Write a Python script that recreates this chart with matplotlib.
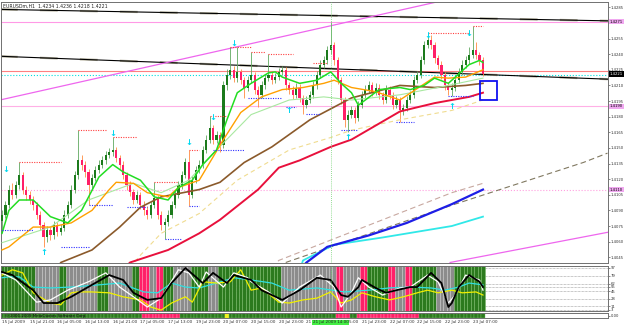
# -*- coding: utf-8 -*-
"""
EURUSDm H1 - grafico estilo MetaTrader con subventana de oscilador
"""
import numpy as np
import matplotlib
matplotlib.use('Agg')
import matplotlib.pyplot as plt

# ---------------- datos de precio (en pips: 14086 -> 1.4086) ----------------
first_open = 14080
close_pips = [14086, 14095, 14110, 14105, 14114, 14124, 14110, 14105, 14100, 14095,
              14086, 14076, 14064, 14071, 14066, 14076, 14069, 14073, 14086, 14095,
              14110, 14124, 14138, 14134, 14127, 14114, 14121, 14129, 14134, 14138,
              14143, 14146, 14148, 14140, 14134, 14124, 14114, 14108, 14100, 14105,
              14095, 14090, 14086, 14095, 14102, 14086, 14076, 14079, 14086, 14095,
              14105, 14114, 14124, 14136, 14105, 14119, 14129, 14134, 14148, 14158,
              14169, 14158, 14162, 14153, 14210, 14220, 14225, 14217, 14223, 14215,
              14208, 14215, 14220, 14206, 14201, 14210, 14217, 14220, 14215, 14218,
              14223, 14225, 14210, 14206, 14201, 14208, 14198, 14191, 14196, 14201,
              14210, 14220, 14230, 14234, 14244, 14249, 14234, 14215, 14196, 14177,
              14182, 14186, 14179, 14191, 14201, 14206, 14210, 14204, 14208, 14201,
              14196, 14206, 14201, 14191, 14196, 14186, 14188, 14196, 14201, 14215,
              14220, 14234, 14249, 14254, 14249, 14236, 14230, 14220, 14210, 14206,
              14208, 14215, 14223, 14230, 14234, 14239, 14244, 14239, 14234, 14221]
high_pips = [14090, 14099, 14114, 14116, 14118, 14136, 14127, 14113, 14109, 14104,
             14098, 14089, 14079, 14075, 14074, 14080, 14079, 14077, 14090, 14099,
             14114, 14128, 14167, 14143, 14137, 14130, 14125, 14133, 14138, 14142,
             14147, 14150, 14160, 14151, 14143, 14137, 14127, 14118, 14111, 14109,
             14108, 14099, 14094, 14099, 14117, 14105, 14089, 14083, 14090, 14099,
             14109, 14118, 14128, 14140, 14148, 14123, 14133, 14138, 14152, 14162,
             14181, 14172, 14166, 14165, 14214, 14226, 14247, 14229, 14247, 14226,
             14218, 14219, 14242, 14223, 14209, 14214, 14221, 14240, 14224, 14222,
             14227, 14229, 14228, 14213, 14209, 14212, 14211, 14201, 14200, 14205,
             14214, 14224, 14234, 14238, 14248, 14271, 14252, 14237, 14218, 14199,
             14186, 14190, 14189, 14195, 14205, 14210, 14214, 14213, 14212, 14211,
             14204, 14210, 14209, 14204, 14200, 14199, 14192, 14200, 14205, 14219,
             14224, 14238, 14253, 14260, 14258, 14252, 14239, 14233, 14223, 14213,
             14212, 14219, 14227, 14234, 14238, 14247, 14267, 14252, 14242, 14237]
low_pips = [14071, 14083, 14092, 14101, 14102, 14111, 14106, 14100, 14096, 14090,
            14082, 14071, 14055, 14060, 14062, 14063, 14065, 14066, 14070, 14083,
            14092, 14107, 14120, 14129, 14122, 14095, 14110, 14118, 14126, 14131,
            14135, 14140, 14142, 14136, 14130, 14120, 14110, 14104, 14096, 14097,
            14091, 14086, 14082, 14083, 14092, 14082, 14071, 14063, 14075, 14083,
            14092, 14102, 14111, 14121, 14094, 14102, 14116, 14126, 14131, 14145,
            14155, 14154, 14155, 14146, 14150, 14206, 14216, 14213, 14213, 14211,
            14198, 14205, 14212, 14202, 14189, 14198, 14207, 14214, 14211, 14212,
            14215, 14220, 14206, 14202, 14197, 14198, 14194, 14183, 14188, 14193,
            14198, 14207, 14217, 14227, 14231, 14240, 14230, 14211, 14192, 14170,
            14165, 14179, 14174, 14176, 14188, 14198, 14203, 14200, 14201, 14197,
            14192, 14193, 14197, 14187, 14188, 14175, 14182, 14185, 14193, 14198,
            14212, 14217, 14231, 14246, 14245, 14232, 14226, 14216, 14206, 14201,
            14200, 14205, 14212, 14220, 14227, 14231, 14236, 14235, 14230, 14219]

# medias moviles: (barra, precio en pips)
ma_green = [(0, 14068), (2, 14090), (5, 14100), (9, 14100), (14, 14084), (19, 14078),
            (23, 14090), (28, 14122), (32, 14134), (35, 14127), (40, 14119), (44, 14103),
            (48, 14100), (51, 14112), (55, 14119), (58, 14134), (62, 14148), (65, 14177),
            (68, 14203), (72, 14212), (77, 14222), (79, 14223), (81, 14218), (86, 14212),
            (91, 14215), (95, 14223), (98, 14212), (101, 14203), (103, 14191), (109, 14206),
            (115, 14208), (118, 14206), (122, 14210), (125, 14217), (129, 14212),
            (131, 14218), (135, 14230), (138, 14234), (139, 14232)]
ma_orange = [(0, 14052), (2, 14055), (9, 14074), (14, 14074), (20, 14078), (26, 14090),
             (31, 14110), (33, 14117), (38, 14116), (42, 14107), (48, 14103), (51, 14112),
             (57, 14119), (64, 14158), (69, 14184), (75, 14199), (81, 14206), (87, 14208),
             (93, 14212), (96, 14215), (101, 14208), (108, 14204), (115, 14196),
             (125, 14218), (129, 14217), (134, 14218), (139, 14225)]
ma_palegreen = [(0, 14059), (14, 14074), (25, 14100), (38, 14116), (46, 14107), (54, 14119),
                (62, 14148), (72, 14182), (83, 14196), (93, 14199), (101, 14196),
                (115, 14201), (129, 14210), (139, 14217)]
ma_brown = [(15, 14030), (17, 14040), (26, 14052), (34, 14074), (40, 14093), (46, 14103),
            (57, 14110), (63, 14117), (70, 14136), (78, 14151), (89, 14177), (97, 14191),
            (101, 14198), (115, 14210), (125, 14208), (134, 14210), (139, 14212)]
ma_red = [(34, 14030), (37, 14040), (48, 14052), (57, 14068), (63, 14081), (74, 14110),
          (80, 14131), (86, 14138), (95, 14151), (101, 14158), (115, 14185), (125, 14193),
          (135, 14199), (139, 14203)]
ma_yellow = [(37, 14035), (40, 14047), (46, 14068), (57, 14087), (68, 14119), (83, 14148),
             (95, 14160), (101, 14167), (115, 14177), (130, 14186), (139, 14196)]
ma_blue = [(85, 14030), (88, 14040), (94, 14055), (106, 14066), (117, 14078), (130, 14096),
           (139, 14110)]
ma_cyan = [(86, 14032), (87, 14042), (96, 14057), (110, 14064), (130, 14075), (139, 14084)]
ma_tan = [(78, 14035), (80, 14042), (130, 14107), (139, 14116)]
line_gray = [(82, 14040), (130, 14095), (168, 14136), (175, 14145)]

# lineas de tendencia y niveles
trend_black = [[(-0.6, 14283), (175.1, 14272)], [(-0.6, 14238), (175.1, 14216)]]
trend_pink = [[(-0.6, 14196), (175.1, 14327)], [(129.5, 14040), (175.1, 14069)]]
hlevels = [(14271, '#FF99E6', '-'), (14224, '#FF8080', '-'), (14220, '#00E0E0', ':'),
           (14190, '#FFB0E6', '-'), (14110, '#FFA0E0', ':')]
price_boxes = [(14271, '1.4271', '#F0A8F0', 'black'), (14190, '1.4190', '#F0A8F0', 'black'),
               (14110, '1.4110', '#F0A8F0', 'black'), (14221, '1.4221', 'black', 'white')]
current_price = 14221

# niveles de fractales (inicio, fin, precio)
res_levels = [(5, 17, 14136), (22, 30, 14167), (32, 39, 14160), (44, 51, 14117),
              (54, 57, 14148), (60, 65, 14181), (66, 72, 14247), (72, 76, 14242),
              (77, 84, 14240), (90, 94, 14232), (123, 135, 14260), (136, 139, 14267)]
sup_levels = [(0, 9, 14071), (17, 25, 14055), (25, 32, 14095), (36, 42, 14093),
              (47, 52, 14063), (54, 57, 14094), (61, 70, 14148), (71, 81, 14198),
              (82, 85, 14189), (88, 92, 14183), (98, 103, 14167), (114, 119, 14175),
              (129, 136, 14200)]
arrows_down = [(1, 14129), (32, 14164), (54, 14155), (61, 14179), (67, 14250),
               (123, 14258), (135, 14260)]
arrows_up = [(12, 14050), (83, 14186), (100, 14160), (130, 14190)]
box_bars = (138.1, 143.0)
box_prices = (14196, 14214)
vline_bar = 95

# ---------------- oscilador (barra, valor) ----------------
osc_black = [(0, 88), (3, 81), (9, 47), (12, 18), (16, 18), (20, 32), (26, 59), (31, 81),
             (35, 70), (38, 41), (42, 25), (46, 29), (49, 63), (53, 97), (56, 77), (58, 63),
             (61, 86), (65, 63), (67, 81), (72, 70), (75, 47), (81, 25), (86, 47), (91, 75),
             (95, 70), (98, 36), (100, 32), (103, 54), (104, 70), (108, 52), (111, 41),
             (114, 47), (118, 54), (120, 54), (124, 86), (127, 63), (129, 9), (130, 18),
             (132, 54), (135, 81), (138, 66), (139, 54)]
osc_white = [(0, 86), (4, 70), (10, 20), (14, 25), (19, 47), (25, 66), (30, 86), (34, 54),
             (38, 32), (42, 9), (46, 29), (51, 93), (54, 86), (57, 54), (59, 88), (64, 54),
             (67, 86), (71, 75), (72, 66), (77, 43), (81, 18), (86, 54), (92, 81), (96, 54),
             (98, 9), (101, 41), (103, 75), (106, 54), (110, 36), (115, 52), (118, 54),
             (123, 81), (126, 66), (129, 18), (131, 36), (134, 81), (138, 70), (139, 47)]
osc_cyan = [(0, 75), (2, 77), (5, 77), (9, 54), (14, 52), (20, 54), (28, 59), (34, 63),
            (41, 43), (45, 41), (49, 63), (53, 54), (57, 52), (62, 63), (67, 75), (72, 70),
            (78, 63), (83, 47), (91, 52), (99, 43), (106, 47), (112, 52), (118, 54),
            (124, 52), (128, 47), (132, 54), (135, 63), (139, 59)]
osc_yellow = [(0, 81), (3, 93), (6, 86), (9, 41), (14, 18), (17, 14), (20, 41), (22, 43),
              (26, 43), (31, 41), (35, 32), (40, 25), (43, 9), (46, 2), (49, 18), (53, 32),
              (55, 20), (58, 66), (62, 63), (66, 66), (69, 93), (72, 47), (75, 52), (80, 20),
              (83, 18), (87, 25), (91, 29), (95, 43), (98, 18), (101, 25), (104, 41),
              (108, 32), (112, 25), (116, 32), (120, 41), (123, 47), (126, 41), (130, 47),
              (133, 41), (137, 43), (139, 36)]
osc_levels = [97, 79, 62, 55, 45, 28, 11, 3]
# estado de cada barra en el fondo del oscilador (desde, hasta, estado)
osc_spans = [(0, 9, 'g'), (10, 16, 's'), (17, 18, 'g'), (19, 27, 's'), (28, 30, 'g'),
             (31, 37, 's'), (38, 39, 'g'), (40, 42, 'r'), (43, 44, 's'), (45, 46, 'r'),
             (47, 49, 'g'), (50, 54, 's'), (55, 59, 'g'), (60, 62, 's'), (63, 80, 'g'),
             (81, 96, 's'), (97, 98, 'r'), (99, 103, 's'), (104, 105, 'r'), (106, 111, 'g'),
             (112, 113, 'r'), (114, 116, 's'), (117, 118, 'r'), (119, 125, 'g'),
             (126, 130, 's'), (131, 139, 'g')]
strip_spans = [(0, 40, 'g'), (41, 51, 'r'), (52, 64, 'g'), (65, 65, 'y'), (66, 96, 'g'),
               (97, 100, 'r'), (101, 102, 'g'), (103, 120, 'r'), (121, 139, 'g')]

time_labels = [(0, '15 Jul 2009'), (8, '15 Jul 21:00'), (16, '16 Jul 05:00'),
               (24, '16 Jul 13:00'), (32, '16 Jul 21:00'), (40, '17 Jul 05:00'),
               (48, '17 Jul 13:00'), (56, '19 Jul 23:00'), (64, '20 Jul 07:00'),
               (72, '20 Jul 15:00'), (80, '20 Jul 23:00'), (88, '21 Jul 07:00'),
               (96, '21 Jul 15:00'), (104, '21 Jul 23:00'), (112, '22 Jul 07:00'),
               (120, '22 Jul 15:00'), (128, '22 Jul 23:00'), (136, '23 Jul 07:00')]
vline_label = '21 Jul 2009 14:00'
header = 'EURUSDm,H1  1.4234 1.4236 1.4218 1.4221'


def pts(lista):
    xs, ys = zip(*lista)
    return np.array(xs, dtype=float), np.array(ys, dtype=float) / 1e4


def vals(lista):
    xs, ys = zip(*lista)
    return np.array(xs, dtype=float), np.array(ys, dtype=float)


# ---------------- figura ----------------
W, H = 625, 327
fig = plt.figure(figsize=(W / 100, H / 100), dpi=100)
fig.patch.set_facecolor('white')
XL = (-0.29, 175.14)

ax = fig.add_axes([1 / W, 1 - 263 / H, 607 / W, 261 / H])
ax2 = fig.add_axes([1 / W, 1 - 311 / H, 607 / W, 45 / H])
ax3 = fig.add_axes([1 / W, 1 - 318 / H, 607 / W, 5 / H])

for a in (ax, ax2, ax3):
    a.set_xlim(*XL)
    a.set_xticks([])
    for s in a.spines.values():
        s.set_color('#707070')
        s.set_linewidth(0.7)
    a.yaxis.tick_right()
    a.tick_params(axis='y', labelsize=2.7, length=1.5, width=0.4, pad=0.6, colors='#303030')

# ---------------- panel principal ----------------
ax.set_ylim(1.40395, 1.42901)
# el nivel 1.4270 queda tapado por la etiqueta rosa
ticks = [t / 1e4 for t in range(14045, 14286, 15) if t != 14270]
ax.set_yticks(ticks)
ax.set_yticklabels(['%.4f' % t for t in ticks])

c = np.array(close_pips) / 1e4
o = np.r_[first_open, close_pips[:-1]] / 1e4
hi = np.array(high_pips) / 1e4
lo = np.array(low_pips) / 1e4
idx = np.arange(len(c))
alcista = c >= o

ax.vlines(idx, lo, hi, colors=np.where(alcista, '#5FA85F', '#FF8C40'), linewidth=0.6, zorder=3)
ax.bar(idx, np.maximum(np.abs(c - o), 0.00005), bottom=np.minimum(o, c), width=0.62,
       color=np.where(alcista, '#1C7A1C', '#FF1F68'), linewidth=0, zorder=4)

for nivel, col, ls in hlevels:
    ax.axhline(nivel / 1e4, color=col, lw=0.8, ls=ls, zorder=2)

for tl in trend_black:
    x, y = pts(tl)
    ax.plot(x, y, color='#B0AC98', lw=1.6, ls=(0, (8, 10)), zorder=2)
    ax.plot(x, y, color='black', lw=0.8, zorder=2)
for tl in trend_pink:
    x, y = pts(tl)
    ax.plot(x, y, color='#EE66EE', lw=0.9, zorder=2)

# medias moviles
estilos = [(ma_tan, '#C8A8A0', 0.8, (0, (5, 3))), (line_gray, '#807860', 0.8, (0, (5, 3))),
           (ma_cyan, '#30E8E8', 1.3, '-'), (ma_blue, '#1E1EE6', 1.6, '-'),
           (ma_yellow, '#F0DC90', 0.8, (0, (4, 3))), (ma_red, '#E8103C', 1.4, '-'),
           (ma_brown, '#8B5A2B', 1.2, '-'), (ma_palegreen, '#A8E8A0', 0.8, '-'),
           (ma_orange, '#FFA000', 1.0, '-'), (ma_green, '#22DD22', 1.1, '-')]
for datos, col, lw, ls in estilos:
    x, y = pts(datos)
    ax.plot(x, y, color=col, lw=lw, ls=ls, zorder=5)

for a0, a1, p in res_levels:
    ax.plot([a0, a1], [p / 1e4] * 2, color='#FF4040', lw=0.8, ls=(0, (1, 1.2)), zorder=6)
for a0, a1, p in sup_levels:
    ax.plot([a0, a1], [p / 1e4] * 2, color='#3030FF', lw=0.8, ls=(0, (1, 1.2)), zorder=6)

for b, p in arrows_down:
    ax.text(b, p / 1e4, '\u2193', color='#00D8F0', fontsize=6, fontweight='bold',
            ha='center', va='center', zorder=7)
for b, p in arrows_up:
    ax.text(b, p / 1e4, '\u2191', color='#00D8F0', fontsize=6, fontweight='bold',
            ha='center', va='center', zorder=7)

ax.add_patch(plt.Rectangle((box_bars[0], box_prices[0] / 1e4), box_bars[1] - box_bars[0],
                           (box_prices[1] - box_prices[0]) / 1e4, fill=False,
                           edgecolor='#1010F0', lw=1.3, zorder=8))

for a in (ax, ax2):
    a.axvline(vline_bar, color='#70D070', lw=0.6, ls=(0, (1, 1.5)), zorder=6)

trans = ax.get_yaxis_transform()
for p, txt, fc, tc in price_boxes:
    ax.text(1.003, p / 1e4, txt, transform=trans, fontsize=2.7, color=tc, va='center',
            ha='left', zorder=10, clip_on=False,
            bbox=dict(boxstyle='square,pad=0.15', fc=fc, ec='none'))

ax.text(0.003, 0.993, header, transform=ax.transAxes, fontsize=3.3, va='top', ha='left',
        color='#202020')

# ---------------- oscilador ----------------
ax2.set_ylim(0, 101.5)
ax2.set_yticks(osc_levels)
ax2.set_yticklabels([str(v) for v in osc_levels])
for v in osc_levels:
    ax2.axhline(v, color='#909090', lw=0.5, ls=(0, (1, 1)), zorder=1)

relleno = {'g': ('#2C7A1E', '#78B868'), 's': ('#8C8C8C', '#C8C8C8'),
           'r': ('#FF2068', '#FF90B0'), 'y': ('#F0F020', '#F0F020')}
for a0, a1, est in osc_spans:
    b = np.arange(a0, a1 + 1)
    ax2.bar(b, 101.5, width=1.0, bottom=0, color=relleno[est][0],
            edgecolor=relleno[est][1], linewidth=0.4, zorder=2)

for datos, col, lw in [(osc_cyan, '#30E0E0', 0.9), (osc_yellow, '#F0F000', 0.9),
                       (osc_white, 'white', 0.9), (osc_black, 'black', 1.3)]:
    x, y = vals(datos)
    ax2.plot(x, y, color=col, lw=lw, zorder=4)

# ---------------- franja inferior ----------------
ax3.set_ylim(0, 1)
ax3.set_yticks([0.5])
ax3.set_yticklabels(['0.00'])
for a0, a1, est in strip_spans:
    b = np.arange(a0, a1 + 1)
    ax3.bar(b, 1, width=1.0, bottom=0, color=relleno[est][0],
            edgecolor=relleno[est][1], linewidth=0.3, zorder=2)
ax3.text(1, 0.5, '\u00a9 2001-2009 MetaQuotes Software Corp.', fontsize=2.8,
         va='center', ha='left', color='#101010', zorder=5)

tx = ax3.get_xaxis_transform()
for b, txt in time_labels:
    ax3.text(b, -0.9, txt, transform=tx, fontsize=3.0, va='center', ha='left',
             color='#303030', clip_on=False)
ax3.text(vline_bar, -0.9, vline_label, transform=tx, fontsize=3.0, va='center', ha='center',
         color='#202020', clip_on=False, zorder=10,
         bbox=dict(boxstyle='square,pad=0.2', fc='#44EE44', ec='none'))

fig.savefig('out.png', dpi=100, facecolor='white')
